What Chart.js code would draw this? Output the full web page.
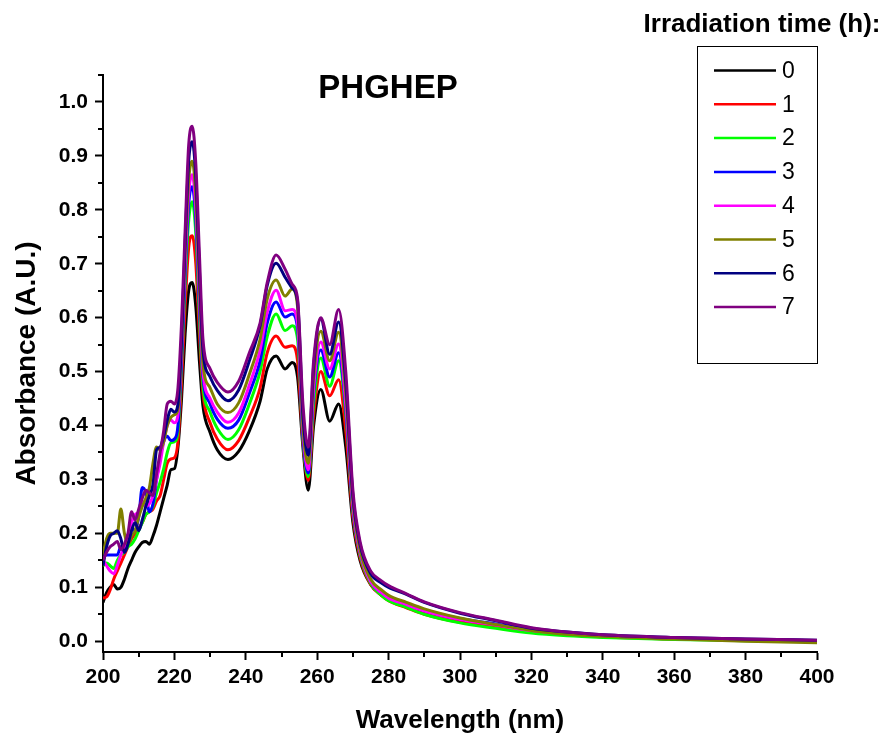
<!DOCTYPE html>
<html>
<head>
<meta charset="utf-8">
<script src="https://cdn.jsdelivr.net/npm/chart.js@4.4.1/dist/chart.umd.min.js"></script>
<style>
  html, body { margin: 0; padding: 0; background: #fff; }
  #wrap { position: relative; width: 885px; height: 738px; }
</style>
</head>
<body>
<div id="wrap"><canvas id="absChart" width="885" height="738"></canvas></div>
<script>
// ============================================================
// DATA
// ============================================================
const wavelengths = [200,201,202,203,204,205,206,207,208,209,210,211,212,213,214,215,216,217,218,219,220,221,
  222,223,224,225,226,227,228,
  230,232,235,238,241,244,246,248.5,251,253,254.5,256,257.5,259,261,263.5,266,268,270,272,275,278,280,285,290,300,310,320,330,340,360,380,400];

const abs0h = [.072,.09,.10,.105,.097,.10,.115,.135,.15,.165,.175,.183,.185,.18,.195,.215,.24,.265,.29,.318,.32,.36,
  .45,.57,.65,.665,.62,.52,.436,
  .387,.355,.337,.352,.39,.445,.505,.529,.505,.517,.49,.36,.28,.40,.467,.408,.44,.36,.22,.15,.105,.085,.077,.065,.052,.037,.028,.018,.012,.009,.005,.002,.0];
const abs1h = [.08,.082,.095,.115,.13,.145,.16,.175,.19,.20,.21,.22,.235,.24,.245,.26,.27,.30,.33,.338,.34,.37,
  .48,.62,.73,.752,.70,.57,.46,
  .405,.375,.355,.372,.415,.47,.535,.566,.545,.548,.52,.37,.298,.42,.50,.455,.485,.39,.23,.155,.105,.085,.075,.062,.05,.035,.026,.017,.012,.008,.004,.002,.0];
const abs2h = [.14,.145,.14,.135,.15,.16,.165,.175,.18,.19,.205,.22,.235,.24,.25,.275,.295,.32,.35,.368,.37,.39,
  .51,.66,.78,.815,.755,.60,.475,
  .425,.395,.374,.392,.44,.50,.565,.607,.576,.585,.56,.375,.305,.44,.525,.473,.52,.42,.24,.16,.107,.085,.075,.063,.05,.034,.024,.015,.01,.007,.003,.001,-.001];
const abs3h = [.155,.16,.16,.16,.16,.175,.165,.185,.21,.205,.23,.285,.275,.24,.255,.30,.34,.37,.38,.372,.375,.40,
  .52,.68,.81,.843,.78,.62,.49,
  .44,.412,.395,.41,.46,.52,.59,.629,.601,.607,.58,.38,.312,.46,.54,.49,.535,.43,.245,.165,.11,.09,.082,.07,.058,.042,.032,.021,.015,.011,.006,.003,.001];
const abs4h = [.15,.14,.13,.125,.14,.16,.175,.195,.22,.235,.24,.26,.25,.255,.27,.30,.33,.37,.40,.41,.405,.42,
  .54,.70,.83,.865,.80,.64,.50,
  .45,.425,.406,.423,.475,.54,.61,.651,.613,.615,.59,.39,.318,.47,.555,.505,.551,.44,.25,.165,.11,.09,.08,.068,.056,.04,.03,.02,.014,.01,.005,.002,.0];
const abs5h = [.16,.19,.20,.20,.20,.245,.20,.18,.195,.205,.23,.25,.265,.285,.33,.36,.355,.37,.40,.415,.42,.43,
  .55,.72,.855,.89,.825,.66,.515,
  .47,.44,.424,.442,.495,.56,.635,.67,.64,.653,.62,.40,.33,.49,.575,.52,.573,.46,.26,.17,.115,.095,.085,.072,.06,.043,.031,.02,.013,.009,.004,.0,-.003];
const abs6h = [.14,.175,.195,.20,.205,.19,.165,.18,.205,.22,.205,.225,.25,.27,.29,.355,.36,.38,.41,.43,.425,.44,
  .56,.74,.89,.926,.86,.69,.54,
  .49,.465,.446,.466,.52,.585,.66,.701,.675,.655,.63,.42,.345,.51,.598,.532,.592,.48,.27,.18,.125,.108,.10,.087,.072,.052,.038,.024,.017,.012,.007,.004,.002];
const abs7h = [.15,.165,.175,.18,.185,.17,.18,.20,.24,.225,.245,.265,.28,.275,.27,.31,.35,.39,.44,.445,.44,.47,
  .59,.76,.92,.955,.885,.72,.56,
  .505,.48,.462,.482,.535,.59,.665,.716,.69,.662,.635,.44,.36,.52,.60,.55,.615,.50,.28,.185,.13,.112,.103,.088,.073,.053,.039,.025,.017,.012,.007,.004,.002];

const timeLabels = ['0','1','2','3','4','5','6','7'];
const xTicks  = [200,220,240,260,280,300,320,340,360,380,400];
const xMinor  = [210,230,250,270,290,310,330,350,370,390];
const yTicks  = [0,0.1,0.2,0.3,0.4,0.5,0.6,0.7,0.8,0.9,1.0];
const yMinor  = [0.05,0.15,0.25,0.35,0.45,0.55,0.65,0.75,0.85,0.95,1.05];

const lineColors = ['#000000','#ff0000','#00ff00','#0000ff','#ff00ff','#808000','#000080','#800080'];
const FONT = "'Liberation Sans', Arial, sans-serif";

// ============================================================
// PLUGINS
// ============================================================
const minorTicks = {
  id: 'minorTicks',
  afterDraw(chart) {
    const { ctx, scales: { x, y } } = chart;
    ctx.save();
    ctx.strokeStyle = '#000';
    ctx.lineWidth = 2;
    ctx.beginPath();
    xMinor.forEach(v => {
      const px = Math.round(x.getPixelForValue(v));
      ctx.moveTo(px, x.top); ctx.lineTo(px, x.top + 5);
    });
    yMinor.forEach(v => {
      const py = Math.round(y.getPixelForValue(v));
      ctx.moveTo(y.right, py); ctx.lineTo(y.right - 5, py);
    });
    ctx.stroke();
    ctx.restore();
  }
};

const boxLegend = {
  id: 'boxLegend',
  afterDraw(chart) {
    const ctx = chart.ctx;
    ctx.save();
    // plot title
    ctx.fillStyle = '#000';
    ctx.textAlign = 'center';
    ctx.textBaseline = 'middle';
    ctx.font = `bold 33px ${FONT}`;
    ctx.fillText('PHGHEP', 388, 89);
    // legend heading
    ctx.font = `bold 26px ${FONT}`;
    ctx.fillText('Irradiation time (h):', 762, 25);
    // legend box
    ctx.strokeStyle = '#000';
    ctx.lineWidth = 1;
    ctx.strokeRect(697.5, 46.5, 120, 317);
    ctx.textAlign = 'left';
    ctx.font = `23px ${FONT}`;
    chart.data.datasets.forEach((ds, i) => {
      const yy = 70.5 + i * 33.8;
      ctx.strokeStyle = ds.borderColor;
      ctx.lineWidth = 2.5;
      ctx.beginPath();
      ctx.moveTo(714, yy); ctx.lineTo(776, yy);
      ctx.stroke();
      ctx.fillText(ds.label, 782, yy + 1);
    });
    ctx.restore();
  }
};

// ============================================================
// CHART
// ============================================================
const series = [abs0h, abs1h, abs2h, abs3h, abs4h, abs5h, abs6h, abs7h];

const datasets = series.map((vals, i) => ({
  label: timeLabels[i],
  data: vals.map((v, k) => ({ x: wavelengths[k], y: v })),
  borderColor: lineColors[i],
  backgroundColor: lineColors[i],
  borderWidth: 3,
  pointRadius: 0,
  fill: false,
  cubicInterpolationMode: 'monotone',
  order: series.length - i,
}));

new Chart(document.getElementById('absChart'), {
  type: 'line',
  data: { datasets },
  options: {
    responsive: false,
    animation: false,
    layout: { padding: { top: 75, right: 68, left: 0, bottom: 0 } },
    plugins: {
      legend: { display: false },
      tooltip: { enabled: false },
    },
    scales: {
      x: {
        type: 'linear', min: 200, max: 400,
        afterBuildTicks: s => { s.ticks = xTicks.map(v => ({ value: v })); },
        afterFit: s => { s.height = 86; },
        grid: { drawOnChartArea: false, drawTicks: true, tickLength: 8, tickWidth: 2, tickColor: '#000' },
        border: { display: true, color: '#000', width: 2 },
        ticks: { color: '#000', padding: 5, maxRotation: 0, font: { family: FONT, size: 21, weight: 'bold' } },
        title: { display: true, text: 'Wavelength (nm)', color: '#000', padding: { top: 0, bottom: 2 },
                 font: { family: FONT, size: 26, weight: 'bold' } },
      },
      y: {
        type: 'linear', min: -0.02, max: 1.05,
        afterBuildTicks: s => { s.ticks = yTicks.map(v => ({ value: v })); },
        afterFit: s => { s.width = 103; },
        grid: { drawOnChartArea: false, drawTicks: true, tickLength: 8, tickWidth: 2, tickColor: '#000' },
        border: { display: true, color: '#000', width: 2 },
        ticks: { color: '#000', padding: 7, callback: v => v.toFixed(1), font: { family: FONT, size: 21, weight: 'bold' } },
        title: { display: true, text: 'Absorbance (A.U.)', color: '#000', padding: { top: 10, bottom: 0 },
                 font: { family: FONT, size: 28, weight: 'bold' } },
      }
    }
  },
  plugins: [minorTicks, boxLegend]
});
</script>
</body>
</html>
